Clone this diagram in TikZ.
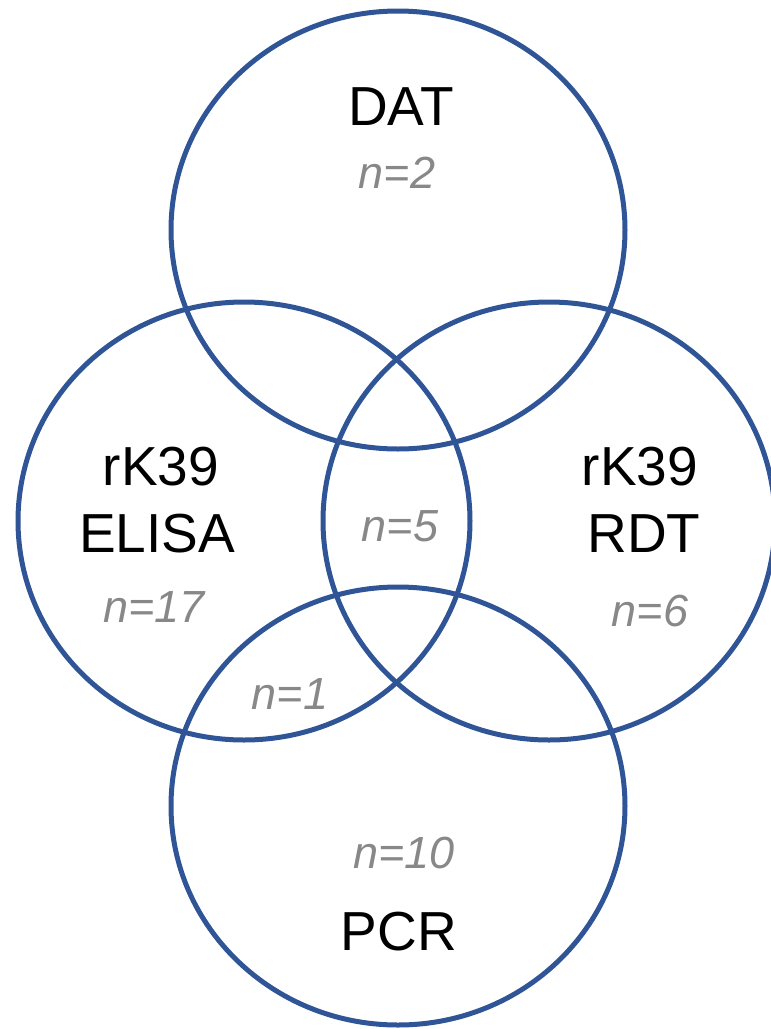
\documentclass[tikz,border=0pt]{standalone}
\usepackage{fontspec}
\setmainfont{Liberation Sans}
\definecolor{vblue}{HTML}{2F5597}
\definecolor{ngray}{HTML}{888888}
\begin{document}
\begin{tikzpicture}[x=1pt,y=-1pt,
  setcirc/.style={draw=vblue,line width=5pt},
  lbl/.style={anchor=base,inner sep=0pt,font=\fontsize{55}{60}\selectfont,text=black},
  cnt/.style={anchor=base,inner sep=0pt,font=\fontsize{45}{50}\selectfont\itshape,text=ngray}]
\useasboundingbox (0,0) rectangle (771,1029);
\draw[setcirc] (398,230) ellipse [x radius=227, y radius=219];
\draw[setcirc] (244,521) ellipse [x radius=226, y radius=219];
\draw[setcirc] (549,521) ellipse [x radius=226, y radius=219];
\draw[setcirc] (398,806) ellipse [x radius=227, y radius=219];
\node[lbl] (dat) at (401,125) {DAT};
\node[cnt] (ndat) at (397,188) {n=2};
\node[lbl] (elisa1) at (161,485) {rK39};
\node[lbl] (elisa2) at (157,552) {ELISA};
\node[cnt] (nelisa) at (154,622) {n=17};
\node[cnt] (nmid) at (400,541) {n=5};
\node[lbl] (rdt1) at (640,485) {rK39};
\node[lbl] (rdt2) at (644,552) {RDT};
\node[cnt] (nrdt) at (650,626) {n=6};
\node[cnt] (none) at (290,709) {n=1};
\node[cnt] (npcr) at (404,868) {n=10};
\node[lbl] (pcr) at (399,950) {PCR};
\end{tikzpicture}
\end{document}
